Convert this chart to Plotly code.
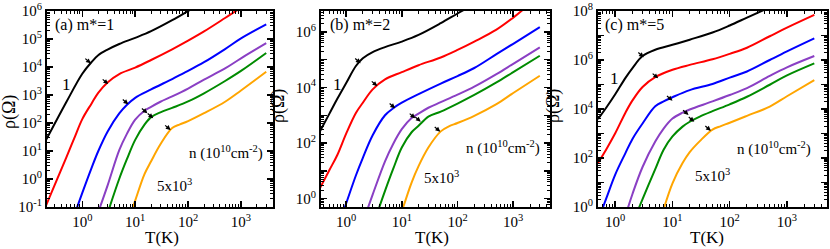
import numpy as np
import plotly.graph_objects as go

FONT = "Liberation Serif, Times New Roman, Times, serif"
colors = ["#000000", "#ff0000", "#0000ff", "#8a3fc4", "#008b00", "#ffa500"]

# ---------------- Panel (a) m*=1 ----------------
a_T_black = [0.2, 0.5, 1, 1.5, 2, 3, 5, 10, 20, 50, 100, 150]
a_rho_black = [22, 562, 5750, 15100, 26300, 41700, 66100, 110000, 190000, 468000, 1.0e6, 1.58e6]
a_T_red = [0.2, 0.3, 0.5, 0.7, 1, 1.5, 2, 3, 5, 10, 20, 50, 100, 200, 500, 1000]
a_rho_red = [0.098, 0.60, 5.9, 27.5, 138, 501, 1200, 2820, 5620, 9550, 17800, 42700, 87100, 186000, 562000, 1.32e6]
a_T_blue = [0.7, 1, 1.5, 2, 3, 5, 7, 10, 20, 50, 100, 200, 500, 1000, 3000]
a_rho_blue = [0.049, 0.32, 2.5, 9.8, 49, 219, 447, 794, 1580, 3720, 7240, 14800, 43700, 105000, 331000]
a_T_purple = [2, 3, 5, 7, 10, 15, 20, 30, 50, 100, 200, 500, 1000, 3000]
a_rho_purple = [0.065, 0.58, 10.7, 41.7, 132, 275, 380, 575, 891, 1700, 3550, 8910, 20400, 70800]
a_T_green = [3, 5, 7, 10, 15, 20, 30, 50, 100, 200, 500, 1000, 3000]
a_rho_green = [0.059, 1.02, 5.2, 25, 87, 162, 240, 347, 589, 1150, 3160, 7240, 31600]
a_T_orange = [7, 10, 15, 20, 30, 50, 70, 100, 200, 500, 1000, 3000]
a_rho_orange = [0.023, 0.17, 1.5, 4.3, 17.4, 66, 89, 117, 224, 575, 1450, 6760]
a_arrow_T = [1.45, 3.09, 7.4, 17, 21.9, 46.8]
a_arrow_rho = [13500, 2450, 468, 224, 148, 56]

# ---------------- Panel (b) m*=2 ----------------
b_T_black = [0.3, 0.5, 0.7, 1, 1.5, 2, 3, 5, 10, 20, 50, 100, 200]
b_rho_black = [166, 1120, 3980, 14100, 58900, 112000, 186000, 282000, 447000, 776000, 2.04e6, 4.57e6, 1e7]
b_T_red = [0.3, 0.5, 0.7, 1, 1.5, 2, 3, 5, 10, 20, 50, 100, 200, 500, 1000, 1500]
b_rho_red = [1.5, 10.5, 38, 214, 1200, 2820, 8510, 19500, 35500, 63100, 120000, 224000, 447000, 1.2e6, 3.24e6, 6.3e6]
b_T_blue = [0.7, 1, 1.5, 2, 3, 5, 7, 10, 20, 50, 100, 200, 500, 1000, 3000]
b_rho_blue = [0.087, 0.66, 6.8, 29.5, 191, 1000, 1780, 2820, 5750, 13800, 25700, 50100, 158000, 372000, 1.48e6]
b_T_purple = [2, 3, 5, 7, 10, 15, 20, 30, 50, 100, 200, 500, 1000, 3000]
b_rho_purple = [0.14, 1.4, 22, 93, 316, 794, 1150, 1860, 2950, 5500, 10700, 30200, 70800, 275000]
b_T_green = [3, 5, 7, 10, 15, 20, 30, 50, 100, 200, 500, 1000, 3000]
b_rho_green = [0.10, 1.9, 11.7, 69, 245, 417, 891, 1350, 2630, 5370, 15100, 35500, 138000]
b_T_orange = [10, 15, 20, 30, 50, 70, 100, 200, 500, 1000, 3000]
b_rho_orange = [0.34, 3.8, 14.8, 69, 263, 398, 525, 955, 2510, 6310, 26300]
b_arrow_T = [1.83, 3.63, 7.59, 17.4, 21.9, 49]
b_arrow_rho = [74100, 11200, 1780, 776, 589, 257]

# ---------------- Panel (c) m*=5 ----------------
c_T_black = [0.5, 0.7, 1, 1.5, 2, 3, 5, 10, 20, 50, 100, 200, 500]
c_rho_black = [3890, 11500, 39800, 182000, 468000, 1.45e6, 2.63e6, 4.17e6, 6.76e6, 1.32e7, 2.57e7, 5.37e7, 1.41e8]
c_T_red = [0.5, 0.7, 1, 1.5, 2, 3, 5, 10, 20, 50, 100, 200, 500, 1000, 3000]
c_rho_red = [63, 229, 1020, 6920, 22400, 79400, 2.0e5, 3.98e5, 6.31e5, 1.07e6, 1.78e6, 3.16e6, 9.33e6, 2.09e7, 6.92e7]
c_T_blue = [0.5, 0.7, 1, 1.5, 2, 3, 5, 7, 10, 20, 50, 100, 200, 500, 1000, 3000]
c_rho_blue = [0.28, 2.3, 21, 155, 603, 2570, 12900, 20400, 30200, 58900, 1.05e5, 1.91e5, 3.39e5, 1.0e6, 2.24e6, 7.59e6]
c_T_purple = [1.5, 2, 3, 5, 7, 10, 15, 20, 50, 100, 200, 500, 1000, 3000]
c_rho_purple = [0.42, 3.4, 43, 468, 1580, 4070, 7080, 9550, 20400, 37200, 70800, 2.24e5, 5.01e5, 1.45e6]
c_T_green = [2, 3, 5, 7, 10, 15, 20, 30, 50, 100, 200, 500, 1000, 3000]
c_rho_green = [0.21, 2.1, 35, 219, 759, 1910, 3020, 4900, 8130, 15500, 31600, 97700, 2.34e5, 7.24e5]
c_T_orange = [7, 10, 15, 20, 30, 50, 70, 100, 200, 500, 1000, 3000]
c_rho_orange = [0.81, 9.3, 62, 174, 490, 1450, 2000, 2750, 5250, 12600, 33100, 1.51e5]
c_arrow_T = [3.16, 5.62, 10, 19.1, 24, 46.8]
c_arrow_rho = [1.29e6, 178000, 21900, 5750, 3020, 1290]

panel_labels = ["(a) m*=1", "(b) m*=2", "(c) m*=5"]
x_tick_vals = [1, 10, 100, 1000]
x_tick_text = ["10<sup>0</sup>", "10<sup>1</sup>", "10<sup>2</sup>", "10<sup>3</sup>"]

panels = [
    dict(T=[a_T_black, a_T_red, a_T_blue, a_T_purple, a_T_green, a_T_orange],
         R=[a_rho_black, a_rho_red, a_rho_blue, a_rho_purple, a_rho_green, a_rho_orange],
         aT=a_arrow_T, aR=a_arrow_rho),
    dict(T=[b_T_black, b_T_red, b_T_blue, b_T_purple, b_T_green, b_T_orange],
         R=[b_rho_black, b_rho_red, b_rho_blue, b_rho_purple, b_rho_green, b_rho_orange],
         aT=b_arrow_T, aR=b_arrow_rho),
    dict(T=[c_T_black, c_T_red, c_T_blue, c_T_purple, c_T_green, c_T_orange],
         R=[c_rho_black, c_rho_red, c_rho_blue, c_rho_purple, c_rho_green, c_rho_orange],
         aT=c_arrow_T, aR=c_arrow_rho),
]

# layout geometry (pixels)
W, H = 830, 249
L, R_, T_, B = 47, 3, 11, 42
PW, PH = W - L - R_, H - T_ - B
px_left = [47, 321, 598]
px_right = [273, 550, 827]
x_ranges = [[-0.667, 3.605], [-0.45, 3.66], [-0.301, 3.699]]
y_ranges = [[-1, 6], [-0.3, 6.75], [0, 8]]
y_label_step = [1, 2, 2]


def pxx(p):
    return (p - L) / PW


def pxy(p):
    return (H - B - p) / PH


fig = go.Figure()
annotations = []
layout = {}

for i, pn in enumerate(panels):
    sfx = "" if i == 0 else str(i + 1)
    xa, ya = "x" + sfx, "y" + sfx
    for k in range(6):
        fig.add_trace(go.Scatter(x=pn["T"][k], y=pn["R"][k], mode="lines",
                                 line=dict(color=colors[k], width=2, shape="spline", smoothing=1.0),
                                 xaxis=xa, yaxis=ya, showlegend=False, hoverinfo="skip"))
    for t, r in zip(pn["aT"], pn["aR"]):
        annotations.append(dict(x=np.log10(t), y=np.log10(r), xref=xa, yref=ya, text="",
                                showarrow=True, ax=-7, ay=-6, arrowhead=2, arrowsize=0.8,
                                arrowwidth=1.2, arrowcolor="black"))
    ylo, yhi = y_ranges[i]
    ydec = list(range(int(np.ceil(ylo)), int(np.floor(yhi)) + 1))
    y_vals = [10.0 ** d for d in ydec]
    y_text = [("10<sup>%d</sup>" % d) if (d % y_label_step[i] == 0) else "" for d in ydec]
    y_minor = [m * 10.0 ** d for d in range(int(np.floor(ylo)), int(np.ceil(yhi)) + 1) for m in range(2, 10)]
    x_minor = [m * 10.0 ** d for d in range(-1, 4) for m in range(2, 10)]
    common = dict(type="log", showline=True, linewidth=2, linecolor="black", mirror="allticks",
                  ticks="inside", ticklen=6, tickwidth=1.5, tickcolor="black", showgrid=False,
                  zeroline=False, automargin=False,
                  tickfont=dict(family=FONT, size=15, color="black"))
    layout["xaxis" + sfx] = dict(common, range=x_ranges[i],
                                 domain=[pxx(px_left[i]), pxx(px_right[i])], anchor=ya,
                                 tickmode="array", tickvals=x_tick_vals, ticktext=x_tick_text,
                                 minor=dict(ticks="inside", ticklen=3, tickwidth=1, tickcolor="black",
                                            tickmode="array", tickvals=x_minor, showgrid=False))
    layout["yaxis" + sfx] = dict(common, range=y_ranges[i], domain=[0, 1], anchor=xa,
                                 tickmode="array", tickvals=y_vals, ticktext=y_text,
                                 minor=dict(ticks="inside", ticklen=3, tickwidth=1, tickcolor="black",
                                            tickmode="array", tickvals=y_minor, showgrid=False))

# texts
def txt(s, px, py, size, angle=0):
    annotations.append(dict(text=s, x=pxx(px), y=pxy(py), xref="paper", yref="paper",
                            showarrow=False, xanchor="center", yanchor="middle", textangle=angle,
                            font=dict(family=FONT, size=size, color="black")))

label_pos = [(84, 25), (360, 25), (634, 25)]
one_pos = [(66, 84), (337, 84), (614, 78)]
n_pos = [(226, 152), (503, 147), (774, 148)]
five_pos = [(174, 185), (441, 177), (712, 175)]
ytitle_pos = [(9, 112), (278, 106), (553, 106)]
xtitle_pos = [(162, 237), (432, 237), (707, 237)]
for i in range(3):
    txt(panel_labels[i], *label_pos[i], 16)
    txt("1", *one_pos[i], 17)
    txt("n (10<sup>10</sup>cm<sup>-2</sup>)", *n_pos[i], 15)
    txt("5x10<sup>3</sup>", *five_pos[i], 15)
    txt("ρ(Ω)", *ytitle_pos[i], 18, -90)
    txt("T(K)", *xtitle_pos[i], 17)

fig.update_layout(width=W, height=H, margin=dict(l=L, r=R_, t=T_, b=B, autoexpand=False),
                  plot_bgcolor="white", paper_bgcolor="white", annotations=annotations, **layout)
fig.write_html("out.html", config={"displayModeBar": False, "staticPlot": True},
               post_script="document.body.style.margin='0';document.body.style.overflow='hidden';")
